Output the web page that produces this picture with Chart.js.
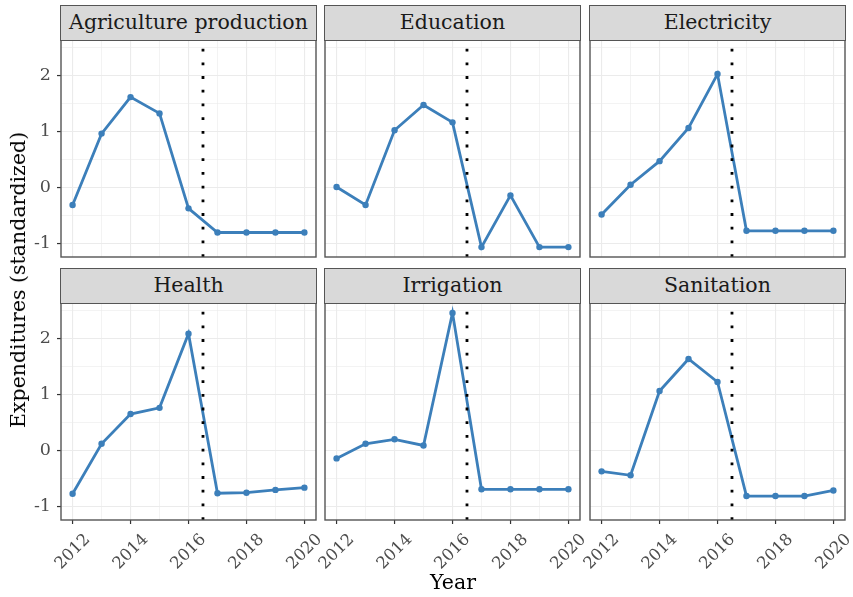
<!DOCTYPE html>
<html><head><meta charset="utf-8">
<script src="https://cdn.jsdelivr.net/npm/chart.js@4/dist/chart.umd.min.js"></script>
<style>
html,body{margin:0;padding:0;background:#fff;}
#wrap{position:relative;width:853px;height:597px;overflow:hidden;font-family:"DejaVu Serif",serif;background:#fff;}
canvas{position:absolute;}
.strip{position:absolute;box-sizing:border-box;background:#D9D9D9;border:1.4px solid #555;color:#1A1A1A;font-size:20.5px;text-align:center;white-space:nowrap;}
.ttl{position:absolute;color:#000;font-size:20.5px;white-space:nowrap;transform-origin:center center;}
</style></head><body><div id="wrap"></div>
<script>
// ---- data ----
const years = [2012, 2013, 2014, 2015, 2016, 2017, 2018, 2019, 2020];
const panelTitles = ['Agriculture production', 'Education', 'Electricity', 'Health', 'Irrigation', 'Sanitation'];
const agriculture = [-0.31, 0.96, 1.61, 1.32, -0.37, -0.80, -0.80, -0.80, -0.80];
const education   = [0.01, -0.31, 1.02, 1.47, 1.16, -1.06, -0.14, -1.06, -1.06];
const electricity = [-0.48, 0.05, 0.47, 1.06, 2.02, -0.77, -0.77, -0.77, -0.77];
const health      = [-0.77, 0.12, 0.65, 0.76, 2.08, -0.76, -0.75, -0.70, -0.66];
const irrigation  = [-0.14, 0.12, 0.20, 0.09, 2.45, -0.69, -0.69, -0.69, -0.69];
const sanitation  = [-0.37, -0.44, 1.06, 1.63, 1.22, -0.81, -0.81, -0.81, -0.71];
const seriesList = [agriculture, education, electricity, health, irrigation, sanitation];
const xGridTicks = [2012, 2013, 2014, 2015, 2016, 2017, 2018, 2019, 2020];
const xTickLabels = [2012, 2014, 2016, 2018, 2020];
const yGridTicks = [-1, -0.5, 0, 0.5, 1, 1.5, 2, 2.5];
const yTickLabels = [-1, 0, 1, 2];
const policyLine = [2016.5];
const xLimits = [2011.6, 2020.4];
const yLimits = [-1.236, 2.626];
const yTitle = 'Expenditures (standardized)';
const xTitle = 'Year';

// ---- layout ----
const colLeft = [61, 325, 590];
const rowTop = [40, 303];
const PW = 255, PH = 217, STRIP = 35;
const PADL = 61, PADR = 12, PADT = 5, PADB = 72;
const YW = 56, XH = 68;
const LINE = '#3C7FBA';
const FONT = 'DejaVu Serif';

const wrap = document.getElementById('wrap');

const borderPlugin = {
  id: 'panelBorder',
  afterDraw(chart) {
    const {ctx, chartArea: a} = chart;
    ctx.save();
    ctx.strokeStyle = '#555';
    ctx.lineWidth = 1.4;
    ctx.strokeRect(a.left, a.top, a.right - a.left, a.bottom - a.top);
    ctx.restore();
  }
};

function fixFit(horizontal) {
  return function (s) {
    if (horizontal) s.height = XH; else s.width = YW;
    s.paddingLeft = 0; s.paddingRight = 0; s.paddingTop = 0; s.paddingBottom = 0;
  };
}

seriesList.forEach((series, i) => {
  const r = Math.floor(i / 3), c = i % 3;
  const showY = c === 0, showX = r === 1;
  const cv = document.createElement('canvas');
  const W = PADL + PW + PADR, H = PADT + PH + PADB;
  cv.width = W; cv.height = H;
  cv.style.width = W + 'px'; cv.style.height = H + 'px';
  cv.style.left = (colLeft[c] - PADL) + 'px';
  cv.style.top = (rowTop[r] - PADT) + 'px';
  wrap.appendChild(cv);

  new Chart(cv, {
    type: 'line',
    data: {
      datasets: [
        {
          data: policyLine.flatMap(x => [{x: x, y: yLimits[0]}, {x: x, y: yLimits[1]}]),
          borderColor: '#000', borderWidth: 2.8, borderDash: [2.8, 10.9], borderCapStyle: 'butt',
          pointRadius: 0, fill: false, order: 0
        },
        {
          data: years.map((x, k) => ({x: x, y: series[k]})),
          borderColor: LINE, backgroundColor: LINE, borderWidth: 2.8,
          pointRadius: 3.2, pointBorderWidth: 0, pointBackgroundColor: LINE,
          fill: false, tension: 0, order: 1
        }
      ]
    },
    options: {
      responsive: false, animation: false, events: [],
      devicePixelRatio: 1,
      layout: {padding: {left: PADL - YW, right: PADR, top: PADT, bottom: PADB - XH}},
      plugins: {legend: {display: false}, tooltip: {enabled: false}},
      scales: {
        x: {
          type: 'linear', min: xLimits[0], max: xLimits[1],
          afterBuildTicks: s => { s.ticks = xGridTicks.map(v => ({value: v})); },
          afterFit: fixFit(true),
          border: {display: false},
          grid: {
            color: '#EBEBEB',
            lineWidth: ctx => xTickLabels.includes(ctx.tick && ctx.tick.value) ? 1.1 : 0.6,
            drawTicks: showX, tickLength: 4, tickWidth: 1.2,
            tickColor: ctx => xTickLabels.includes(ctx.tick && ctx.tick.value) ? '#333' : 'rgba(0,0,0,0)'
          },
          ticks: {
            display: showX, autoSkip: false, minRotation: 45, maxRotation: 45,
            color: '#4D4D4D', font: {family: FONT, size: 16.5}, padding: 6, labelOffset: 15,
            callback: v => xTickLabels.includes(v) ? String(v) : ''
          }
        },
        y: {
          type: 'linear', min: yLimits[0], max: yLimits[1],
          afterBuildTicks: s => { s.ticks = yGridTicks.map(v => ({value: v})); },
          afterFit: fixFit(false),
          border: {display: false},
          grid: {
            color: '#EBEBEB',
            lineWidth: ctx => yTickLabels.includes(ctx.tick && ctx.tick.value) ? 1.1 : 0.6,
            drawTicks: showY, tickLength: 4, tickWidth: 1.2,
            tickColor: ctx => yTickLabels.includes(ctx.tick && ctx.tick.value) ? '#333' : 'rgba(0,0,0,0)'
          },
          ticks: {
            display: showY, autoSkip: false,
            color: '#4D4D4D', font: {family: FONT, size: 17.5}, padding: 6,
            callback: v => yTickLabels.includes(v) ? String(v) : ''
          }
        }
      }
    },
    plugins: [borderPlugin]
  });

  const st = document.createElement('div');
  st.className = 'strip';
  st.style.left = (colLeft[c] - 0.7) + 'px';
  st.style.top = (rowTop[r] - STRIP) + 'px';
  st.style.width = (PW + 1.4) + 'px';
  st.style.height = (STRIP + 0.7) + 'px';
  st.style.lineHeight = (STRIP - 2) + 'px';
  st.textContent = panelTitles[i];
  wrap.appendChild(st);
});

const yt = document.createElement('div');
yt.className = 'ttl';
yt.textContent = yTitle;
yt.style.left = '18px'; yt.style.top = '280px';
yt.style.transform = 'translate(-50%,-50%) rotate(-90deg)';
wrap.appendChild(yt);

const xt = document.createElement('div');
xt.className = 'ttl';
xt.textContent = xTitle;
xt.style.left = '453px'; xt.style.top = '582px';
xt.style.transform = 'translate(-50%,-50%)';
wrap.appendChild(xt);
</script>
</body></html>
